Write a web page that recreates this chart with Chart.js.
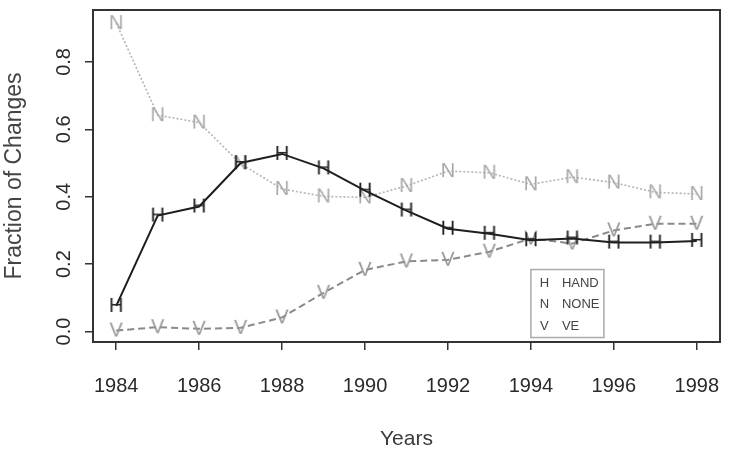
<!DOCTYPE html>
<html><head><meta charset="utf-8">
<script src="https://cdn.jsdelivr.net/npm/chart.js@4.4.1/dist/chart.umd.min.js"></script>
<style>html,body{margin:0;padding:0;background:#fff;}</style>
</head><body>
<canvas id="c" width="733" height="453" style="display:block;width:733px;height:453px"></canvas>
<script>
const years = [1984,1985,1986,1987,1988,1989,1990,1991,1992,1993,1994,1995,1996,1997,1998];
const handValues = [0.076,0.344,0.371,0.500,0.527,0.484,0.418,0.359,0.305,0.290,0.271,0.276,0.264,0.264,0.269];
const noneValues = [0.915,0.642,0.620,0.498,0.423,0.401,0.398,0.432,0.476,0.471,0.437,0.458,0.442,0.413,0.408];
const veValues   = [0.003,0.013,0.008,0.011,0.042,0.115,0.183,0.208,0.213,0.237,0.276,0.261,0.300,0.320,0.320];
const seriesNames = ['HAND','NONE','VE'];
const seriesSymbols = ['H','N','V'];
const xTickValues = [1984,1986,1988,1990,1992,1994,1996,1998];
const yTickValues = [0,0.2,0.4,0.6,0.8];

const FONT = '"Liberation Sans", Arial, sans-serif';

function letterMarker(ch, color, size) {
  const c = document.createElement('canvas');
  c.width = 18; c.height = 20;
  const x = c.getContext('2d');
  x.font = size + 'px ' + FONT;
  x.fillStyle = color;
  x.textAlign = 'center';
  x.textBaseline = 'middle';
  x.fillText(ch, 9, 10.5);
  return c;
}

const frame = {
  id: 'frame',
  afterDraw(chart) {
    const {ctx, chartArea: a} = chart;
    ctx.save();
    ctx.strokeStyle = '#333';
    ctx.lineWidth = 2;
    ctx.strokeRect(a.left, a.top, a.right - a.left, a.bottom - a.top);
    ctx.restore();
  }
};

const boxLegend = {
  id: 'boxLegend',
  afterDraw(chart) {
    const {ctx} = chart;
    const xs = chart.scales.x, ys = chart.scales.y;
    const left = xs.getPixelForValue(1994);
    const top = ys.getPixelForValue(0.184);
    const w = 73, h = 68;
    ctx.save();
    ctx.strokeStyle = '#aaa';
    ctx.lineWidth = 1.5;
    ctx.strokeRect(left, top, w, h);
    ctx.font = '13px ' + FONT;
    ctx.fillStyle = '#444';
    ctx.textBaseline = 'middle';
    chart.data.datasets.forEach((ds, i) => {
      const y = top + 14 + i * 21.2;
      ctx.textAlign = 'center';
      ctx.fillText(seriesSymbols[i], left + 13.5, y);
      ctx.textAlign = 'left';
      ctx.fillText(ds.label, left + 31, y);
    });
    ctx.restore();
  }
};

const pts = (arr) => years.map((y, i) => ({x: y, y: arr[i]}));

new Chart(document.getElementById('c'), {
  type: 'line',
  data: {
    datasets: [
      {label: seriesNames[0], data: pts(handValues), borderColor: '#1e1e1e', borderWidth: 2,
       pointStyle: letterMarker('H', '#222', 20), pointRadius: 8, tension: 0},
      {label: seriesNames[1], data: pts(noneValues), borderColor: '#b4b4b4', borderWidth: 1.6, borderDash: [2, 2],
       pointStyle: letterMarker('N', '#a8a8a8', 20), pointRadius: 8, tension: 0},
      {label: seriesNames[2], data: pts(veValues), borderColor: '#8a8a8a', borderWidth: 2, borderDash: [7, 4],
       pointStyle: letterMarker('V', '#999', 20), pointRadius: 8, tension: 0}
    ]
  },
  options: {
    responsive: false,
    animation: false,
    devicePixelRatio: 1,
    layout: {padding: {top: 5, right: 13, left: 0, bottom: 0}},
    plugins: {legend: {display: false}, tooltip: {enabled: false}},
    scales: {
      x: {
        type: 'linear', position: 'bottom', min: 1983.44, max: 1998.56,
        afterBuildTicks: (axis) => { axis.ticks = xTickValues.map(v => ({value: v})); },
        afterFit: (axis) => { axis.height = 111; axis.paddingLeft = 0; axis.paddingRight = 0; },
        grid: {display: true, drawOnChartArea: false, drawTicks: true, tickLength: 8, color: '#333', lineWidth: 1.5},
        border: {display: false},
        ticks: {autoSkip: false, maxRotation: 0, minRotation: 0, padding: 24, color: '#2a2a2a',
                font: {family: FONT, size: 20}, callback: (v) => String(v)},
        title: {display: true, text: 'Years', color: '#3a3a3a', font: {family: FONT, size: 21, lineHeight: 1},
                padding: {top: 0, bottom: 3}}
      },
      y: {
        type: 'linear', position: 'left', min: -0.031, max: 0.954,
        afterBuildTicks: (axis) => { axis.ticks = yTickValues.map(v => ({value: v})); },
        afterFit: (axis) => { axis.width = 93; axis.paddingTop = 0; axis.paddingBottom = 0; },
        grid: {display: true, drawOnChartArea: false, drawTicks: true, tickLength: 8, color: '#333', lineWidth: 1.5},
        border: {display: false},
        ticks: {autoSkip: false, minRotation: 90, maxRotation: 90, crossAlign: 'center', padding: 7, color: '#2a2a2a',
                font: {family: FONT, size: 20}, callback: (v) => Number(v).toFixed(1)},
        title: {display: true, text: 'Fraction of Changes', color: '#444', font: {family: FONT, size: 23, lineHeight: 1},
                padding: {top: 3, bottom: 0}}
      }
    }
  },
  plugins: [frame, boxLegend]
});
</script>
</body></html>
